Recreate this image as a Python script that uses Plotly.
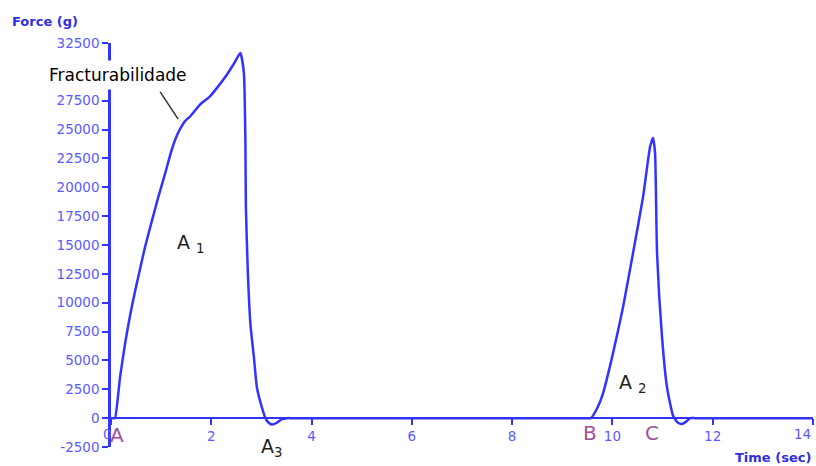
import plotly.graph_objects as go

# Texture profile analysis curve: two compression cycles
time_s = [0.0, 0.05, 0.08, 0.18, 0.28, 0.38, 0.48, 0.58, 0.68, 0.81, 0.94, 1.08, 1.21, 1.31, 1.39,
          1.48, 1.58, 1.77, 1.97, 2.11, 2.31, 2.45, 2.58,
          2.65, 2.68, 2.69, 2.73, 2.78, 2.85, 2.91, 3.01, 3.08, 3.14, 3.21, 3.3, 3.41, 3.51,
          3.6, 3.7, 9.4, 9.48,
          9.57, 9.7, 9.81, 10.01, 10.21, 10.41, 10.61, 10.75, 10.81, 10.85, 10.89, 10.99, 11.09,
          11.21, 11.3, 11.39, 11.47, 11.55, 11.65, 11.75, 14.0]
force_g = [0, 0, 0, 3530, 6430, 8900, 11000, 12950, 14850, 17000, 19100, 21200, 23230, 24450, 25150,
           25750, 26150, 27140, 27860, 28590, 29750, 30700, 31630,
           29890, 24100, 18300, 12510, 8170, 5270, 2660, 920, 0, -380, -560, -420, -90, 0,
           0, 0, 0, 0,
           0, 900, 2110, 5590, 9590, 14280, 19150, 23490, 24270, 22970, 14280, 6980, 2630,
           200, -380, -500, -300, 0, 0, 0, 0]

x_ticks = [0, 2, 4, 6, 8, 10, 12, 14]
x_labels = ["", "2", "4", "6", "8", "10", "12", ""]
y_ticks = list(range(-2500, 32501, 2500))
y_labels = [str(v) for v in y_ticks]

BLUE = "#3333ff"
TICK_BLUE = "#5a5aff"
TITLE_BLUE = "#2f2fdd"
PURPLE = "#a0509c"
FONT = "DejaVu Sans"

fig = go.Figure()
fig.add_trace(go.Scatter(x=time_s, y=force_g, mode="lines",
                         line=dict(color=BLUE, width=2.5, shape="spline", smoothing=0.5),
                         hoverinfo="skip", cliponaxis=False))

tick_font = dict(family=FONT, size=13.5, color=TICK_BLUE)
fig.update_layout(
    width=816, height=466,
    margin=dict(l=111, r=3, t=43, b=19),
    plot_bgcolor="white", paper_bgcolor="white",
    showlegend=False,
    xaxis=dict(range=[0, 14], tickvals=x_ticks, ticktext=x_labels,
               showgrid=False, zeroline=False,
               showline=True, linecolor=BLUE, linewidth=2,
               ticks="outside", ticklen=6, tickwidth=2, tickcolor=BLUE,
               tickfont=tick_font, ticklabeloverflow="allow",
               anchor="free", position=2500 / 35000),
    yaxis=dict(range=[-2500, 32500], tickvals=y_ticks, ticktext=y_labels,
               showgrid=False, zeroline=False,
               showline=True, linecolor=BLUE, linewidth=2.5,
               ticks="outside", ticklen=6, tickwidth=2, tickcolor=BLUE,
               tickfont=tick_font, ticklabeloverflow="allow"),
)

annotations = [
    dict(x=-0.094, y=1.052, xref="paper", yref="paper", text="<b>Force (g)</b>",
         font=dict(family=FONT, size=13, color=TITLE_BLUE)),
    dict(x=0.943, y=-0.027, xref="paper", yref="paper", text="<b>Time (sec)</b>",
         font=dict(family=FONT, size=13, color=TITLE_BLUE)),
    # end x tick labels, placed by hand so they stay visible
    dict(x=0, y=-1400, text="0", xanchor="right", xshift=3, font=tick_font),
    dict(x=14, y=-1400, text="14", xanchor="right", font=tick_font),
    dict(x=2.77, y=32880, text="Dureza", font=dict(family=FONT, size=17, color="black")),
    dict(x=0.14, y=29750, text="Fracturabilidade", bgcolor="white", borderpad=4,
         font=dict(family=FONT, size=17, color="black")),
    dict(x=1.6, y=15150, text="A <sub>1</sub>", font=dict(family=FONT, size=19, color="#222222")),
    dict(x=10.41, y=3000, text="A <sub>2</sub>", font=dict(family=FONT, size=19, color="#222222")),
    dict(x=3.21, y=-2500, text="A<sub>3</sub>", font=dict(family=FONT, size=19, color="#222222")),
    dict(x=0.12, y=-1450, text="A", font=dict(family=FONT, size=20, color=PURPLE)),
    dict(x=9.55, y=-1280, text="B", font=dict(family=FONT, size=20, color=PURPLE)),
    dict(x=10.79, y=-1280, text="C", font=dict(family=FONT, size=20, color=PURPLE)),
]
for a in annotations:
    a.setdefault("xref", "x")
    a.setdefault("yref", "y")
    a.setdefault("xanchor", "center")
    a["yanchor"] = "middle"
    a["showarrow"] = False
fig.update_layout(annotations=annotations)

# Leader line from the label to the fracturability point
fig.add_shape(type="line", x0=0.98, y0=28270, x1=1.34, y1=25900,
              line=dict(color="#333333", width=1.5))

fig.write_html("out.html")
